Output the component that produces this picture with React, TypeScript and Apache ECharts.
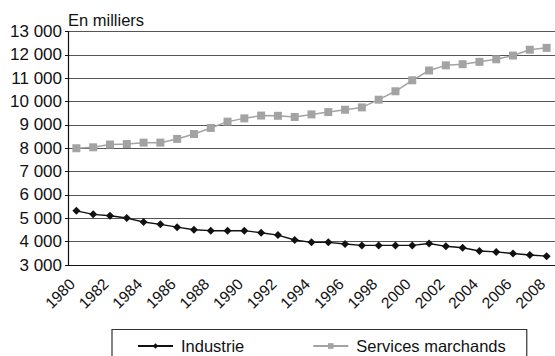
import React, { useEffect, useRef } from "react";
import * as echarts from "echarts";

const years: string[] = [];
for (let y = 1980; y <= 2008; y++) years.push(String(y));

const industrie = [
  5320, 5170, 5110, 5010, 4840, 4740, 4620, 4510, 4470, 4470, 4470, 4380, 4280,
  4070, 3970, 3970, 3900, 3840, 3840, 3840, 3840, 3920, 3800, 3740, 3600, 3560,
  3490, 3430, 3380,
];

const services = [
  8000, 8040, 8160, 8180, 8240, 8240, 8400, 8610, 8870, 9140, 9280, 9400, 9390,
  9340, 9450, 9550, 9650, 9750, 10080, 10440, 10910, 11330, 11550, 11600, 11700,
  11810, 11970, 12220, 12300,
];

const yMin = 3000;
const yMax = 13000;
const yStep = 1000;

const FONT = "'Liberation Sans', Arial, sans-serif";

export default function App() {
  const ref = useRef<HTMLDivElement>(null);
  useEffect(() => {
    if (!ref.current) return;
    const chart = echarts.init(ref.current, undefined, { renderer: "svg" });
    chart.setOption({
      animation: false,
      backgroundColor: "#ffffff",
      textStyle: { fontFamily: FONT },
      grid: { left: 68, top: 31.5, width: 495, bottom: 91 },
      graphic: [
        {
          type: "text",
          left: 68,
          top: 11,
          style: { text: "En milliers", fontSize: 16.5, fontFamily: FONT, fill: "#111" },
        },
      ],
      legend: {
        left: 112,
        top: 329.5,
        padding: [8, 21, 10, 25],
        borderColor: "#333",
        borderWidth: 1.2,
        borderRadius: 0,
        itemWidth: 35,
        itemHeight: 7,
        itemGap: 68,
        textStyle: { fontSize: 16.5, fontFamily: FONT, color: "#111", padding: [0, 0, 0, 3] },
        data: ["Industrie", "Services marchands"],
      },
      xAxis: {
        type: "category",
        data: years,
        boundaryGap: true,
        axisLine: { lineStyle: { color: "#111", width: 1.2 } },
        axisTick: { interval: 0, length: 4, lineStyle: { color: "#111" } },
        axisLabel: {
          interval: 1,
          rotate: 45,
          fontSize: 15.5,
          color: "#111",
          fontFamily: FONT,
          margin: 12,
          padding: [0, 6, 0, 0],
        },
      },
      yAxis: {
        type: "value",
        min: yMin,
        max: yMax,
        interval: yStep,
        axisLine: { show: true, lineStyle: { color: "#111", width: 1.2 } },
        axisTick: { show: true, length: 3, lineStyle: { color: "#111" } },
        splitLine: { lineStyle: { color: "#555", width: 1.2 } },
        axisLabel: {
          fontSize: 17,
          color: "#111",
          fontFamily: FONT,
          margin: 6,
          formatter: (v: number) => String(v).replace(/\B(?=(\d{3})+(?!\d))/g, " "),
        },
      },
      series: [
        {
          name: "Industrie",
          type: "line",
          data: industrie,
          symbol: "diamond",
          symbolSize: 8,
          lineStyle: { color: "#111", width: 1.4 },
          itemStyle: { color: "#111" },
        },
        {
          name: "Services marchands",
          type: "line",
          data: services,
          symbol: "rect",
          symbolSize: 8,
          lineStyle: { color: "#a3a3a3", width: 1.5 },
          itemStyle: { color: "#a3a3a3" },
        },
      ],
    });
    return () => chart.dispose();
  }, []);
  return (
    <div
      ref={ref}
      style={{ position: "fixed", left: 0, top: 0, width: 555, height: 356, background: "#fff" }}
    />
  );
}
